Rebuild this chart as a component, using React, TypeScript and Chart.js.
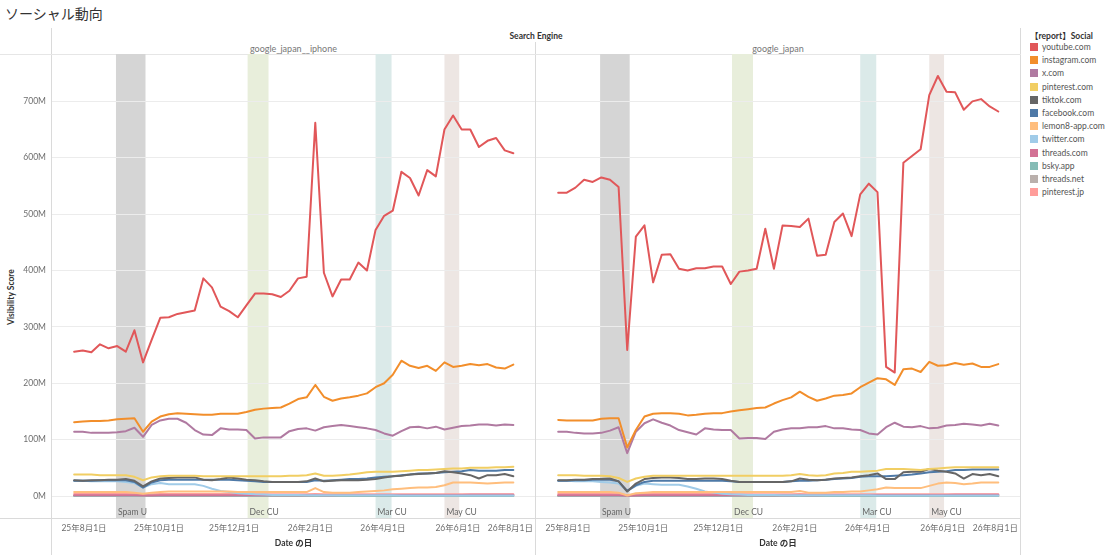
import React, { useEffect, useRef } from "react";
import { Chart, registerables } from "chart.js";

Chart.register(...registerables);

const FONT = "Lato, 'Noto Sans CJK JP', 'Noto Sans', sans-serif";

// Weekly dates
const dates = [
  "2025-07-24", "2025-07-31", "2025-08-07", "2025-08-14", "2025-08-21", "2025-08-28",
  "2025-09-04", "2025-09-11", "2025-09-18", "2025-09-25", "2025-10-02", "2025-10-09",
  "2025-10-16", "2025-10-23", "2025-10-30", "2025-11-06", "2025-11-13", "2025-11-20",
  "2025-11-27", "2025-12-04", "2025-12-11", "2025-12-18", "2025-12-25", "2026-01-01",
  "2026-01-08", "2026-01-15", "2026-01-22", "2026-01-29", "2026-02-05", "2026-02-12",
  "2026-02-19", "2026-02-26", "2026-03-05", "2026-03-12", "2026-03-19", "2026-03-26",
  "2026-04-02", "2026-04-09", "2026-04-16", "2026-04-23", "2026-04-30", "2026-05-07",
  "2026-05-14", "2026-05-21", "2026-05-28", "2026-06-04", "2026-06-11", "2026-06-18",
  "2026-06-25", "2026-07-02", "2026-07-09", "2026-07-16",
];

const seriesNames = [
  "youtube.com", "instagram.com", "x.com", "pinterest.com", "tiktok.com", "facebook.com",
  "lemon8-app.com", "twitter.com", "threads.com", "bsky.app", "threads.net", "pinterest.jp",
];
const seriesColors = [
  "#e15759", "#f28e2b", "#b07aa1", "#f1ce63", "#666666", "#4e79a7",
  "#ffbe7d", "#a0cbe8", "#d37295", "#86bcb6", "#bab0ac", "#ff9d9a",
];

// ---- google_japan__iphone (values in millions) ----
const iphoneYoutube = [256, 258, 255, 269, 262, 266, 256, 294, 237, 277, 316, 317, 323, 326, 329, 386, 370, 336, 328, 317, 338, 359, 359, 358, 353, 364, 386, 389, 662, 396, 354, 384, 384, 414, 400, 472, 497, 506, 575, 564, 533, 578, 567, 650, 675, 650, 650, 619, 630, 635, 613, 608];
const iphoneInstagram = [131, 132, 133, 133, 134, 136, 137, 138, 114, 132, 141, 145, 147, 146, 145, 144, 144, 146, 146, 146, 149, 153, 155, 156, 157, 164, 172, 175, 197, 176, 169, 173, 175, 178, 182, 193, 200, 215, 240, 231, 227, 231, 222, 237, 229, 231, 234, 232, 234, 228, 226, 233];
const iphoneX = [114, 114, 112, 112, 112, 113, 115, 121, 105, 126, 134, 137, 137, 130, 117, 109, 108, 120, 118, 118, 117, 102, 104, 104, 104, 115, 119, 120, 116, 122, 124, 126, 124, 122, 120, 117, 111, 107, 115, 122, 123, 120, 123, 118, 121, 124, 125, 127, 127, 125, 127, 126];
const iphonePinterest = [38, 38, 38, 37, 37, 37, 37, 34, 28, 33, 35, 36, 36, 36, 36, 35, 35, 35, 35, 35, 35, 35, 35, 35, 35, 36, 36, 37, 40, 36, 36, 37, 38, 40, 42, 43, 43, 43, 44, 45, 46, 46, 47, 48, 49, 49, 50, 50, 50, 51, 51, 52];
const iphoneTiktok = [28, 27, 28, 28, 29, 29, 30, 27, 17, 26, 31, 32, 33, 33, 33, 29, 28, 30, 33, 31, 29, 28, 26, 25, 25, 25, 25, 26, 31, 26, 27, 28, 28, 28, 29, 30, 33, 35, 36, 38, 39, 40, 41, 44, 42, 40, 37, 31, 37, 37, 39, 35];
const iphoneFacebook = [27, 27, 27, 28, 28, 28, 28, 25, 15, 24, 28, 29, 29, 29, 29, 29, 29, 29, 29, 28, 27, 26, 25, 25, 25, 25, 25, 25, 28, 27, 28, 29, 30, 30, 31, 33, 34, 35, 37, 38, 40, 40, 41, 42, 43, 44, 46, 45, 45, 45, 46, 46];
const iphoneLemon8 = [7, 7, 7, 7, 7, 7, 7, 6, 4, 6, 7, 8, 8, 8, 8, 8, 8, 8, 8, 7, 7, 7, 7, 7, 7, 7, 7, 7, 14, 7, 6, 6, 6, 7, 8, 9, 10, 12, 13, 14, 15, 15, 16, 19, 24, 24, 24, 23, 22, 23, 24, 24];
const iphoneTwitter = [27, 27, 26, 26, 26, 26, 25, 23, 15, 21, 23, 21, 21, 21, 21, 18, 13, 9, 7, 5, 4, 3, 2.5, 2, 1.8, 1.7, 1.6, 1.5, 1.5, 1.4, 1.4, 1.3, 1.3, 1.3, 1.2, 1.2, 1.2, 1.2, 1.1, 1.1, 1.1, 1.1, 1.0, 1.0, 1.0, 1.0, 1.0, 1.0, 1.0, 1.0, 1.0, 1.0];
const iphoneThreads = [1.2, 1.2, 1.2, 1.2, 1.2, 1.2, 1.2, 1.2, 0.8, 1.1, 1.2, 1.2, 1.2, 1.3, 1.3, 1.3, 1.3, 1.3, 1.3, 1.3, 1.4, 1.4, 1.4, 1.4, 1.4, 1.5, 1.5, 1.5, 1.6, 1.5, 1.5, 1.6, 1.6, 1.6, 1.7, 1.7, 1.7, 1.8, 1.8, 1.8, 1.9, 1.9, 1.9, 2.0, 2.0, 2.0, 2.1, 2.1, 2.1, 2.2, 2.2, 2.2];
const iphoneBsky = [0.4, 0.4, 0.4, 0.4, 0.4, 0.4, 0.4, 0.4, 0.3, 0.4, 0.4, 0.4, 0.4, 0.4, 0.4, 0.4, 0.4, 0.4, 0.4, 0.4, 0.4, 0.4, 0.4, 0.4, 0.4, 0.4, 0.4, 0.4, 0.4, 0.4, 0.4, 0.4, 0.4, 0.4, 0.4, 0.4, 0.4, 0.4, 0.4, 0.4, 0.4, 0.4, 0.4, 0.4, 0.4, 0.4, 0.4, 0.4, 0.4, 0.4, 0.4, 0.4];
const iphoneThreadsNet = [0.2, 0.2, 0.2, 0.2, 0.2, 0.2, 0.2, 0.2, 0.1, 0.2, 0.2, 0.2, 0.2, 0.2, 0.2, 0.2, 0.2, 0.2, 0.2, 0.2, 0.1, 0.1, 0.1, 0.1, 0.1, 0.1, 0.1, 0.1, 0.1, 0.1, 0.1, 0.1, 0.1, 0.1, 0.1, 0.1, 0.1, 0.1, 0.1, 0.1, 0.1, 0.1, 0.1, 0.1, 0.1, 0.1, 0.1, 0.1, 0.1, 0.1, 0.1, 0.1];
const iphonePinterestJp = [3.5, 3.5, 3.5, 3.5, 3.5, 3.5, 3.5, 3.4, 2.8, 3.3, 3.5, 3.5, 3.5, 3.5, 3.5, 3.5, 3.4, 3.4, 3.4, 3.4, 3.4, 3.3, 3.3, 3.3, 3.3, 3.3, 3.3, 3.3, 3.4, 3.3, 3.3, 3.3, 3.3, 3.3, 3.2, 3.2, 3.2, 3.2, 3.2, 3.2, 3.2, 3.2, 3.1, 3.1, 3.1, 3.1, 3.1, 3.1, 3.1, 3.1, 3.1, 3.1];

// ---- google_japan (values in millions) ----
const japanYoutube = [538, 538, 547, 561, 557, 565, 561, 548, 259, 460, 480, 379, 428, 429, 403, 400, 404, 404, 407, 407, 376, 398, 400, 403, 474, 403, 480, 479, 477, 492, 426, 428, 486, 501, 461, 535, 554, 539, 229, 219, 591, 603, 615, 711, 745, 717, 716, 685, 700, 704, 691, 682];
const japanInstagram = [135, 134, 134, 134, 134, 137, 138, 138, 86, 117, 141, 146, 147, 147, 146, 143, 144, 146, 147, 147, 150, 152, 154, 156, 157, 164, 170, 175, 185, 176, 169, 173, 178, 179, 182, 193, 201, 209, 207, 197, 225, 226, 220, 238, 231, 232, 236, 233, 235, 229, 229, 234];
const japanX = [114, 114, 112, 111, 111, 112, 116, 122, 76, 114, 129, 136, 130, 125, 117, 113, 109, 120, 118, 117, 117, 102, 103, 103, 101, 114, 118, 120, 120, 122, 122, 124, 120, 120, 118, 117, 111, 109, 122, 130, 123, 122, 124, 120, 121, 125, 126, 128, 127, 125, 128, 125];
const japanPinterest = [37, 37, 37, 36, 36, 36, 35, 32, 25, 31, 34, 36, 36, 36, 36, 36, 36, 36, 36, 36, 36, 36, 36, 36, 36, 36, 36, 37, 39, 37, 36, 37, 40, 41, 43, 43, 44, 45, 48, 48, 48, 47, 46, 48, 49, 50, 51, 51, 51, 51, 51, 51];
const japanTiktok = [28, 28, 29, 29, 30, 30, 31, 26, 8, 22, 30, 32, 33, 33, 32, 30, 30, 31, 31, 30, 27, 25, 25, 25, 25, 25, 25, 26, 31, 29, 28, 29, 31, 32, 33, 35, 37, 40, 30, 30, 42, 43, 43, 48, 45, 43, 40, 31, 39, 37, 39, 35];
const japanFacebook = [27, 27, 28, 28, 29, 29, 29, 26, 9, 19, 25, 27, 27, 27, 27, 27, 27, 27, 27, 27, 26, 25, 25, 25, 25, 25, 25, 26, 27, 27, 28, 29, 30, 31, 32, 34, 35, 35, 35, 36, 37, 38, 40, 42, 43, 44, 46, 46, 47, 47, 47, 47];
const japanLemon8 = [7, 7, 7, 7, 7, 7, 7, 6, 1, 5, 6, 7, 7, 7, 7, 7, 7, 7, 7, 7, 7, 7, 7, 7, 7, 7, 7, 7, 9, 6, 6, 6, 7, 7, 8, 8, 10, 12, 15, 14, 14, 14, 14, 18, 22, 24, 23, 21, 22, 24, 24, 24];
const japanTwitter = [27, 27, 26, 26, 26, 25, 24, 22, 9, 18, 22, 21, 20, 20, 20, 17, 13, 8, 6, 4, 3, 2.5, 2, 1.8, 1.7, 1.6, 1.5, 1.5, 1.4, 1.4, 1.3, 1.3, 1.3, 1.2, 1.2, 1.2, 1.2, 1.1, 1.1, 1.1, 1.1, 1.0, 1.0, 1.0, 1.0, 1.0, 1.0, 1.0, 1.0, 1.0, 1.0, 1.0];
const japanThreads = [1.2, 1.2, 1.2, 1.2, 1.2, 1.2, 1.2, 1.2, 0.5, 1.0, 1.2, 1.2, 1.2, 1.3, 1.3, 1.3, 1.3, 1.3, 1.3, 1.3, 1.4, 1.4, 1.4, 1.4, 1.4, 1.5, 1.5, 1.5, 1.6, 1.5, 1.5, 1.6, 1.6, 1.6, 1.7, 1.7, 1.7, 1.8, 1.8, 1.8, 1.9, 1.9, 1.9, 2.0, 2.0, 2.0, 2.1, 2.1, 2.1, 2.2, 2.2, 2.2];
const japanBsky = [0.4, 0.4, 0.4, 0.4, 0.4, 0.4, 0.4, 0.4, 0.2, 0.3, 0.4, 0.4, 0.4, 0.4, 0.4, 0.4, 0.4, 0.4, 0.4, 0.4, 0.4, 0.4, 0.4, 0.4, 0.4, 0.4, 0.4, 0.4, 0.4, 0.4, 0.4, 0.4, 0.4, 0.4, 0.4, 0.4, 0.4, 0.4, 0.4, 0.4, 0.4, 0.4, 0.4, 0.4, 0.4, 0.4, 0.4, 0.4, 0.4, 0.4, 0.4, 0.4];
const japanThreadsNet = [0.2, 0.2, 0.2, 0.2, 0.2, 0.2, 0.2, 0.2, 0.1, 0.2, 0.2, 0.2, 0.2, 0.2, 0.2, 0.2, 0.2, 0.2, 0.2, 0.2, 0.1, 0.1, 0.1, 0.1, 0.1, 0.1, 0.1, 0.1, 0.1, 0.1, 0.1, 0.1, 0.1, 0.1, 0.1, 0.1, 0.1, 0.1, 0.1, 0.1, 0.1, 0.1, 0.1, 0.1, 0.1, 0.1, 0.1, 0.1, 0.1, 0.1, 0.1, 0.1];
const japanPinterestJp = [3.5, 3.5, 3.5, 3.5, 3.5, 3.5, 3.5, 3.4, 1.5, 3.0, 3.5, 3.5, 3.5, 3.5, 3.5, 3.5, 3.4, 3.4, 3.4, 3.4, 3.4, 3.3, 3.3, 3.3, 3.3, 3.3, 3.3, 3.3, 3.4, 3.3, 3.3, 3.3, 3.3, 3.3, 3.2, 3.2, 3.2, 3.2, 3.2, 3.2, 3.2, 3.2, 3.1, 3.1, 3.1, 3.1, 3.1, 3.1, 3.1, 3.1, 3.1, 3.1];

const iphoneSeries = [iphoneYoutube, iphoneInstagram, iphoneX, iphonePinterest, iphoneTiktok, iphoneFacebook, iphoneLemon8, iphoneTwitter, iphoneThreads, iphoneBsky, iphoneThreadsNet, iphonePinterestJp];
const japanSeries = [japanYoutube, japanInstagram, japanX, japanPinterest, japanTiktok, japanFacebook, japanLemon8, japanTwitter, japanThreads, japanBsky, japanThreadsNet, japanPinterestJp];

const panelNames = ["google_japan__iphone", "google_japan"];

// Axis ticks
const xTickDates = ["2025-08-01", "2025-10-01", "2025-12-01", "2026-02-01", "2026-04-01", "2026-06-01", "2026-08-01"];
const xTickLabels = ["25年8月1日", "25年10月1日", "25年12月1日", "26年2月1日", "26年4月1日", "26年6月1日", "26年8月1日"];
const yTickValues = [0, 100, 200, 300, 400, 500, 600, 700];

// Google update bands
const updateNames = ["Spam U", "Dec CU", "Mar CU", "May CU"];
const updateStarts = ["2025-08-27", "2025-12-12", "2026-03-26", "2026-05-21"];
const updateEnds = ["2025-09-20", "2025-12-29", "2026-04-08", "2026-06-02"];
const updateColors = ["#d5d5d5", "#e8eedb", "#dbeae9", "#ede6e3"];

const BASE = Date.UTC(2025, 7, 1);
function dayOf(s: string): number {
  const [y, m, d] = s.split("-").map(Number);
  return (Date.UTC(y, m - 1, d) - BASE) / 86400000;
}

const X_MIN = -26;
const X_MAX = 366.6;
const Y_MIN = -39;
const Y_MAX = 784;

const bandPlugin = {
  id: "updateBands",
  beforeDraw(chart: any) {
    const { ctx, chartArea, scales } = chart;
    const x = scales.x;
    ctx.save();
    ctx.beginPath();
    ctx.rect(chartArea.left, chartArea.top, chartArea.right - chartArea.left, chartArea.bottom - chartArea.top);
    ctx.clip();
    updateNames.forEach((name, i) => {
      const x0 = x.getPixelForValue(dayOf(updateStarts[i]));
      const x1 = x.getPixelForValue(dayOf(updateEnds[i]));
      ctx.fillStyle = updateColors[i];
      ctx.fillRect(x0, chartArea.top, x1 - x0, chartArea.bottom - chartArea.top);
    });
    updateNames.forEach((name, i) => {
      const x0 = x.getPixelForValue(dayOf(updateStarts[i]));
      ctx.fillStyle = "#666";
      ctx.font = `8.5px ${FONT}`;
      ctx.textAlign = "left";
      ctx.textBaseline = "middle";
      ctx.fillText(name, x0 + 2, chartArea.bottom - 6);
    });
    ctx.restore();
  },
};

function buildChart(canvas: HTMLCanvasElement, series: number[][], showY: boolean) {
  const xs = dates.map(dayOf);
  return new Chart(canvas, {
    type: "line",
    data: {
      datasets: seriesNames.map((name, k) => ({
        label: name,
        data: xs.map((x, i) => ({ x, y: series[k][i] })),
        borderColor: seriesColors[k],
        backgroundColor: seriesColors[k],
        borderWidth: 2,
        pointRadius: 0,
        pointHoverRadius: 0,
        tension: 0,
        borderJoinStyle: "round",
        borderCapStyle: "round",
        order: k,
      })),
    },
    options: {
      animation: false,
      responsive: true,
      maintainAspectRatio: false,
      events: [],
      layout: { padding: 0 },
      plugins: {
        legend: { display: false },
        tooltip: { enabled: false },
        title: { display: false },
      },
      scales: {
        x: {
          type: "linear",
          min: X_MIN,
          max: X_MAX,
          afterBuildTicks: (s: any) => {
            s.ticks = [{ value: X_MIN }, ...xTickDates.map((d) => ({ value: dayOf(d) }))];
          },
          afterFit: (s: any) => {
            s.height = 37;
            s.paddingLeft = 0;
            s.paddingRight = 0;
          },
          ticks: {
            autoSkip: false,
            maxRotation: 0,
            minRotation: 0,
            align: "inner",
            padding: 5,
            color: "#6e6e6e",
            font: { size: 8.5, family: FONT },
            callback: (_v: any, i: number) => (i === 0 ? "" : xTickLabels[i - 1]),
          },
          grid: { display: false, drawTicks: false },
          border: { display: false },
          title: {
            display: true,
            text: "Date の日",
            color: "#333",
            font: { size: 8.5, weight: "bold", family: FONT },
            padding: { top: 0, bottom: 7 },
          },
        },
        y: {
          type: "linear",
          min: Y_MIN,
          max: Y_MAX,
          afterBuildTicks: (s: any) => {
            s.ticks = yTickValues.map((v) => ({ value: v }));
          },
          afterFit: (s: any) => {
            s.width = showY ? 52 : 0;
            s.paddingTop = 0;
            s.paddingBottom = 0;
          },
          ticks: {
            display: showY,
            padding: 6,
            color: "#6e6e6e",
            font: { size: 8.5, family: FONT },
            callback: (v: any) => `${v}M`,
          },
          grid: { color: "#ececec", lineWidth: 1, drawTicks: false },
          border: { display: false },
          title: { display: false },
        },
      },
    } as any,
    plugins: [bandPlugin],
  });
}

const lineColor = "#dadada";

export default function App() {
  const leftRef = useRef<HTMLCanvasElement>(null);
  const rightRef = useRef<HTMLCanvasElement>(null);

  useEffect(() => {
    const a = buildChart(leftRef.current as HTMLCanvasElement, iphoneSeries, true);
    const b = buildChart(rightRef.current as HTMLCanvasElement, japanSeries, false);
    return () => {
      a.destroy();
      b.destroy();
    };
  }, []);

  const text = (s: React.CSSProperties): React.CSSProperties => ({
    position: "absolute",
    whiteSpace: "nowrap",
    lineHeight: "12px",
    ...s,
  });

  return (
    <div
      style={{
        position: "absolute",
        left: 0,
        top: 0,
        width: 1120,
        height: 555,
        background: "#ffffff",
        overflow: "hidden",
        fontFamily: FONT,
      }}
    >
      <div style={text({ left: 5, top: 5, fontSize: 14, lineHeight: "18px", color: "#333" })}>ソーシャル動向</div>

      {/* structural lines */}
      <div style={{ position: "absolute", left: 51, top: 28, width: 1, height: 527, background: lineColor }} />
      <div style={{ position: "absolute", left: 535, top: 42, width: 1, height: 513, background: lineColor }} />
      <div style={{ position: "absolute", left: 1020, top: 28, width: 1, height: 527, background: lineColor }} />
      <div style={{ position: "absolute", left: 0, top: 54, width: 1021, height: 1, background: "#e6e6e6" }} />
      <div style={{ position: "absolute", left: 0, top: 518, width: 1021, height: 1, background: lineColor }} />

      <div
        style={text({
          left: 52,
          width: 968,
          top: 30,
          textAlign: "center",
          fontSize: 8.5,
          fontWeight: "bold",
          color: "#333",
        })}
      >
        Search Engine
      </div>
      <div style={text({ left: 52, width: 483, top: 43, textAlign: "center", fontSize: 9, color: "#777" })}>
        {panelNames[0]}
      </div>
      <div style={text({ left: 536, width: 484, top: 43, textAlign: "center", fontSize: 9, color: "#777" })}>
        {panelNames[1]}
      </div>

      {/* y axis title */}
      <div
        style={text({
          left: 11 - 50,
          top: 297 - 6,
          width: 100,
          textAlign: "center",
          fontSize: 8.5,
          fontWeight: "bold",
          color: "#333",
          transform: "rotate(-90deg)",
          transformOrigin: "50% 50%",
        })}
      >
        Visibility Score
      </div>

      <div style={{ position: "absolute", left: 0, top: 54, width: 535, height: 501 }}>
        <canvas ref={leftRef} />
      </div>
      <div style={{ position: "absolute", left: 536, top: 54, width: 484, height: 501 }}>
        <canvas ref={rightRef} />
      </div>

      {/* legend */}
      <div style={text({ left: 1030, top: 30, fontSize: 8.5, fontWeight: "bold", color: "#333" })}>【report】Social</div>
      {seriesNames.map((name, k) => (
        <div key={name}>
          <div
            style={{
              position: "absolute",
              left: 1030,
              top: 43 + k * 13.2,
              width: 8,
              height: 8,
              background: seriesColors[k],
            }}
          />
          <div style={text({ left: 1042, top: 41 + k * 13.2, fontSize: 8.5, color: "#555" })}>{name}</div>
        </div>
      ))}
    </div>
  );
}
